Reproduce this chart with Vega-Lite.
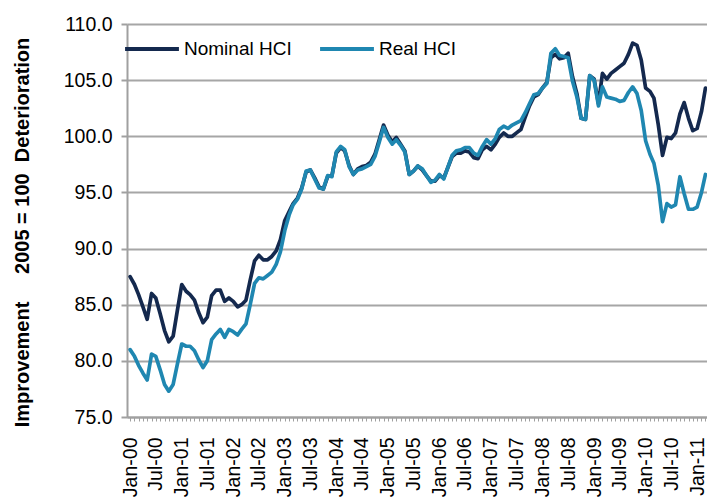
{
  "$schema": "https://vega.github.io/schema/vega-lite/v6.json",
  "width": 580,
  "height": 393,
  "autosize": "none",
  "padding": {"left": 127, "top": 24, "right": 0, "bottom": 81},
  "background": "white",
  "config": {
    "view": {"stroke": null},
    "font": "Liberation Sans"
  },
  "data": {
    "values": [
      {"d":"2000-01-01","nominal":87.5,"real":81.0},
      {"d":"2000-02-01","nominal":86.8,"real":80.4},
      {"d":"2000-03-01","nominal":85.9,"real":79.6},
      {"d":"2000-04-01","nominal":84.8,"real":78.9},
      {"d":"2000-05-01","nominal":83.7,"real":78.3},
      {"d":"2000-06-01","nominal":86.0,"real":80.6},
      {"d":"2000-07-01","nominal":85.6,"real":80.4},
      {"d":"2000-08-01","nominal":84.2,"real":79.2},
      {"d":"2000-09-01","nominal":82.7,"real":77.9},
      {"d":"2000-10-01","nominal":81.7,"real":77.3},
      {"d":"2000-11-01","nominal":82.2,"real":77.9},
      {"d":"2000-12-01","nominal":84.5,"real":79.7},
      {"d":"2001-01-01","nominal":86.8,"real":81.5},
      {"d":"2001-02-01","nominal":86.2,"real":81.3},
      {"d":"2001-03-01","nominal":85.9,"real":81.3},
      {"d":"2001-04-01","nominal":85.4,"real":80.9},
      {"d":"2001-05-01","nominal":84.3,"real":80.1},
      {"d":"2001-06-01","nominal":83.4,"real":79.4},
      {"d":"2001-07-01","nominal":83.9,"real":80.0},
      {"d":"2001-08-01","nominal":85.8,"real":81.9},
      {"d":"2001-09-01","nominal":86.3,"real":82.4},
      {"d":"2001-10-01","nominal":86.3,"real":82.8},
      {"d":"2001-11-01","nominal":85.3,"real":82.1},
      {"d":"2001-12-01","nominal":85.6,"real":82.8},
      {"d":"2002-01-01","nominal":85.3,"real":82.6},
      {"d":"2002-02-01","nominal":84.8,"real":82.3},
      {"d":"2002-03-01","nominal":85.0,"real":82.8},
      {"d":"2002-04-01","nominal":85.4,"real":83.3},
      {"d":"2002-05-01","nominal":87.2,"real":85.0},
      {"d":"2002-06-01","nominal":88.9,"real":86.9},
      {"d":"2002-07-01","nominal":89.4,"real":87.4},
      {"d":"2002-08-01","nominal":89.0,"real":87.3},
      {"d":"2002-09-01","nominal":89.0,"real":87.6},
      {"d":"2002-10-01","nominal":89.3,"real":87.9},
      {"d":"2002-11-01","nominal":89.8,"real":88.6},
      {"d":"2002-12-01","nominal":90.8,"real":89.7},
      {"d":"2003-01-01","nominal":92.5,"real":91.6},
      {"d":"2003-02-01","nominal":93.3,"real":93.0},
      {"d":"2003-03-01","nominal":94.0,"real":93.9},
      {"d":"2003-04-01","nominal":94.5,"real":94.4},
      {"d":"2003-05-01","nominal":95.4,"real":95.3},
      {"d":"2003-06-01","nominal":96.8,"real":96.9},
      {"d":"2003-07-01","nominal":97.0,"real":97.0},
      {"d":"2003-08-01","nominal":96.3,"real":96.2},
      {"d":"2003-09-01","nominal":95.5,"real":95.4},
      {"d":"2003-10-01","nominal":95.3,"real":95.3},
      {"d":"2003-11-01","nominal":96.4,"real":96.5},
      {"d":"2003-12-01","nominal":96.5,"real":96.4},
      {"d":"2004-01-01","nominal":98.5,"real":98.6},
      {"d":"2004-02-01","nominal":99.0,"real":99.1},
      {"d":"2004-03-01","nominal":98.7,"real":98.8},
      {"d":"2004-04-01","nominal":97.4,"real":97.3},
      {"d":"2004-05-01","nominal":96.6,"real":96.6},
      {"d":"2004-06-01","nominal":97.1,"real":97.0},
      {"d":"2004-07-01","nominal":97.3,"real":97.1},
      {"d":"2004-08-01","nominal":97.4,"real":97.3},
      {"d":"2004-09-01","nominal":97.7,"real":97.5},
      {"d":"2004-10-01","nominal":98.4,"real":98.2},
      {"d":"2004-11-01","nominal":99.7,"real":99.5},
      {"d":"2004-12-01","nominal":101.0,"real":100.8},
      {"d":"2005-01-01","nominal":100.1,"real":99.9},
      {"d":"2005-02-01","nominal":99.5,"real":99.3},
      {"d":"2005-03-01","nominal":99.9,"real":99.7},
      {"d":"2005-04-01","nominal":99.3,"real":99.2},
      {"d":"2005-05-01","nominal":98.7,"real":98.6},
      {"d":"2005-06-01","nominal":96.6,"real":96.6},
      {"d":"2005-07-01","nominal":96.9,"real":96.9},
      {"d":"2005-08-01","nominal":97.35,"real":97.35},
      {"d":"2005-09-01","nominal":97.0,"real":97.1},
      {"d":"2005-10-01","nominal":96.5,"real":96.5},
      {"d":"2005-11-01","nominal":96.0,"real":95.9},
      {"d":"2005-12-01","nominal":96.0,"real":96.1},
      {"d":"2006-01-01","nominal":96.5,"real":96.6},
      {"d":"2006-02-01","nominal":96.3,"real":96.2},
      {"d":"2006-03-01","nominal":97.2,"real":97.2},
      {"d":"2006-04-01","nominal":98.2,"real":98.3},
      {"d":"2006-05-01","nominal":98.5,"real":98.7},
      {"d":"2006-06-01","nominal":98.5,"real":98.8},
      {"d":"2006-07-01","nominal":98.7,"real":99.0},
      {"d":"2006-08-01","nominal":98.6,"real":99.0},
      {"d":"2006-09-01","nominal":98.1,"real":98.5},
      {"d":"2006-10-01","nominal":98.0,"real":98.3},
      {"d":"2006-11-01","nominal":98.8,"real":99.1},
      {"d":"2006-12-01","nominal":99.1,"real":99.7},
      {"d":"2007-01-01","nominal":98.8,"real":99.3},
      {"d":"2007-02-01","nominal":99.3,"real":99.8},
      {"d":"2007-03-01","nominal":99.9,"real":100.6},
      {"d":"2007-04-01","nominal":100.3,"real":100.9},
      {"d":"2007-05-01","nominal":100.0,"real":100.7},
      {"d":"2007-06-01","nominal":100.0,"real":101.0},
      {"d":"2007-07-01","nominal":100.3,"real":101.2},
      {"d":"2007-08-01","nominal":100.6,"real":101.4},
      {"d":"2007-09-01","nominal":101.7,"real":102.1},
      {"d":"2007-10-01","nominal":102.7,"real":102.9},
      {"d":"2007-11-01","nominal":103.5,"real":103.7},
      {"d":"2007-12-01","nominal":103.7,"real":103.8},
      {"d":"2008-01-01","nominal":104.3,"real":104.3},
      {"d":"2008-02-01","nominal":104.8,"real":104.7},
      {"d":"2008-03-01","nominal":107.0,"real":107.4},
      {"d":"2008-04-01","nominal":107.3,"real":107.8},
      {"d":"2008-05-01","nominal":106.9,"real":107.2},
      {"d":"2008-06-01","nominal":107.0,"real":107.1},
      {"d":"2008-07-01","nominal":107.4,"real":107.0},
      {"d":"2008-08-01","nominal":105.3,"real":104.9},
      {"d":"2008-09-01","nominal":103.8,"real":103.5},
      {"d":"2008-10-01","nominal":101.6,"real":101.6},
      {"d":"2008-11-01","nominal":101.5,"real":101.5},
      {"d":"2008-12-01","nominal":105.4,"real":105.4},
      {"d":"2009-01-01","nominal":105.1,"real":105.0},
      {"d":"2009-02-01","nominal":102.9,"real":102.7},
      {"d":"2009-03-01","nominal":105.6,"real":104.4},
      {"d":"2009-04-01","nominal":105.1,"real":103.5},
      {"d":"2009-05-01","nominal":105.6,"real":103.4},
      {"d":"2009-06-01","nominal":105.9,"real":103.3},
      {"d":"2009-07-01","nominal":106.2,"real":103.1},
      {"d":"2009-08-01","nominal":106.5,"real":103.2},
      {"d":"2009-09-01","nominal":107.3,"real":103.9},
      {"d":"2009-10-01","nominal":108.3,"real":104.4},
      {"d":"2009-11-01","nominal":108.1,"real":103.8},
      {"d":"2009-12-01","nominal":106.8,"real":102.3},
      {"d":"2010-01-01","nominal":104.3,"real":99.6},
      {"d":"2010-02-01","nominal":104.0,"real":98.4},
      {"d":"2010-03-01","nominal":103.4,"real":97.6},
      {"d":"2010-04-01","nominal":101.0,"real":95.6},
      {"d":"2010-05-01","nominal":98.3,"real":92.4},
      {"d":"2010-06-01","nominal":99.9,"real":94.0},
      {"d":"2010-07-01","nominal":99.8,"real":93.7},
      {"d":"2010-08-01","nominal":100.3,"real":93.9},
      {"d":"2010-09-01","nominal":102.0,"real":96.4},
      {"d":"2010-10-01","nominal":103.0,"real":94.9},
      {"d":"2010-11-01","nominal":101.6,"real":93.5},
      {"d":"2010-12-01","nominal":100.5,"real":93.5},
      {"d":"2011-01-01","nominal":100.7,"real":93.7},
      {"d":"2011-02-01","nominal":102.2,"real":95.0},
      {"d":"2011-03-01","nominal":104.3,"real":96.6}
    ]
  },
  "transform": [
    {"fold": ["nominal", "real"], "as": ["series", "value"]}
  ],
  "mark": {"type": "line", "strokeWidth": 3.7, "strokeJoin": "round", "strokeCap": "round"},
  "encoding": {
    "x": {
      "field": "d",
      "type": "temporal",
      "scale": {"type": "utc", "domain": ["1999-12-10", "2011-03-12"], "nice": false},
      "axis": {
        "title": null,
        "tickCount": {"interval": "month", "step": 1},
        "labelExpr": "utcmonth(datum.value) % 6 == 0 ? utcFormat(datum.value, '%b-%y') : ''",
        "labelAngle": -90,
        "labelAlign": "right",
        "labelBaseline": "middle",
        "labelFontSize": 19.5,
        "labelColor": "#000000",
        "labelPadding": 16,
        "labelOverlap": false,
        "labelBound": false,
        "labelFlush": false,
        "tickSize": 4,
        "tickColor": "#a0a0a0",
        "tickWidth": 1,
        "domainColor": "#a0a0a0",
        "domainWidth": 2,
        "grid": false
      }
    },
    "y": {
      "field": "value",
      "type": "quantitative",
      "scale": {"domain": [75, 110], "nice": false, "zero": false},
      "axis": {
        "title": "Improvement\u00a0\u00a0\u00a0\u00a0\u00a02005 = 100\u00a0\u00a0Deterioration",
        "titleFontSize": 20,
        "titleFontWeight": "bold",
        "titleColor": "#000000",
        "titleAngle": -90,
        "titleX": -105,
        "titleY": 208,
        "titleAlign": "center",
        "titleBaseline": "middle",
        "values": [75, 80, 85, 90, 95, 100, 105, 110],
        "format": ".1f",
        "labelFontSize": 19.5,
        "labelColor": "#000000",
        "labelPadding": 9,
        "tickSize": 6,
        "tickColor": "#a0a0a0",
        "tickWidth": 2,
        "domainColor": "#a0a0a0",
        "domainWidth": 2,
        "grid": true,
        "gridColor": "#a6a6a6",
        "gridWidth": 2
      }
    },
    "color": {
      "field": "series",
      "type": "nominal",
      "scale": {"domain": ["nominal", "real"], "range": ["#14294e", "#1f87b1"]},
      "legend": {
        "orient": "none",
        "legendX": -4,
        "legendY": -4,
        "direction": "horizontal",
        "title": null,
        "symbolType": "stroke",
        "symbolSize": 2900,
        "symbolStrokeWidth": 4,
        "labelFontSize": 19,
        "labelColor": "#000000",
        "labelOffset": 3,
        "columnPadding": 20,
        "padding": 0,
        "labelExpr": "datum.label == 'nominal' ? 'Nominal HCI' : 'Real HCI'"
      }
    }
  }
}
